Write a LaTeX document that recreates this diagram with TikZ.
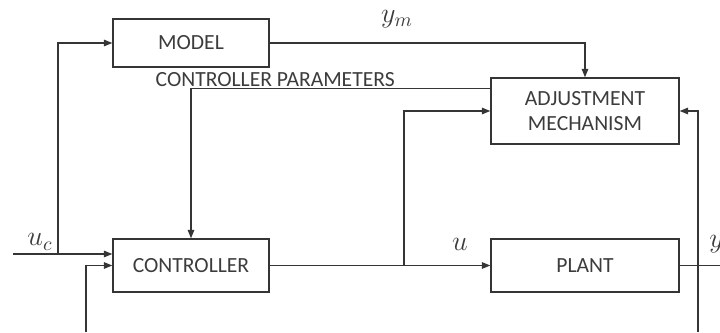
\RequirePackage{fix-cm}
\documentclass[tikz,border=0pt]{standalone}
\usepackage{fontspec}
\setmainfont{Carlito}
\usetikzlibrary{positioning, arrows.meta, calc}
\usepackage{xcolor}
\definecolor{blkline}{HTML}{353535}
\definecolor{blktext}{HTML}{3C3C3C}

\begin{document}
\begin{tikzpicture}[x=0.02cm, y=0.02cm,
    block/.style={draw=blkline, line width=0.75pt, text=blktext, align=center,
                  font=\fontsize{12.3}{14.5}\selectfont, inner sep=0pt},
    sig/.style={draw=blkline, line width=0.75pt, -{Triangle[length=0.17cm, width=0.13cm]}},
    wire/.style={draw=blkline, line width=0.75pt},
    sym/.style={text=blktext, font=\fontsize{16}{19}\selectfont, inner sep=0pt}]
  \useasboundingbox (0,0) rectangle (720,332);

  % blocks
  \node[block, minimum width=3.12cm, minimum height=0.96cm] (model) at (191,289) {MODEL};
  \node[block, minimum width=3.12cm, minimum height=1.06cm] (ctrl) at (191,66.5) {CONTROLLER};
  \node[block, minimum width=3.76cm, minimum height=1.32cm] (adj) at (585,221)
    {ADJUSTMENT\\MECHANISM};
  \node[block, minimum width=3.76cm, minimum height=1.06cm] (plant) at (585,66.5) {PLANT};

  % free ends
  \coordinate (uin) at (13,78);
  \coordinate (usplit) at (58,78);
  \coordinate (fbleft) at (86,0);
  \coordinate (cpar) at ($(adj.north west)+(0,-11)$);
  \coordinate (plantsplit) at (404,66.5);
  \coordinate (yout) at (730,66.5);
  \coordinate (fbright) at (698,0);

  % signals
  \draw[sig] (uin) -- (uin -| ctrl.west);
  \draw[sig] (usplit) |- (model.west);
  \draw[sig] (fbleft) |- (ctrl.west);
  \draw[sig] (model.east) -| (adj.north);
  \draw[sig] (cpar) -| (ctrl.north);
  \draw[sig] (ctrl.east) -- (plant.west);
  \draw[sig] (plantsplit) |- (adj.west);
  \draw[wire] (plant.east) -- (yout);
  \draw[sig] (fbright) |- (adj.east);

  % labels
  \node[block, draw=none, anchor=west] (cparlbl) at (155,252) {CONTROLLER PARAMETERS};
  \node[sym] (uclbl) at (40,90) {$u_c$};
  \node[sym] (ymlbl) at (397,313) {$y_m$};
  \node[sym] (ulbl) at (460,88) {$u$};
  \node[sym, anchor=west] (ylbl) at (709,88) {$y$};
\end{tikzpicture}
\end{document}
